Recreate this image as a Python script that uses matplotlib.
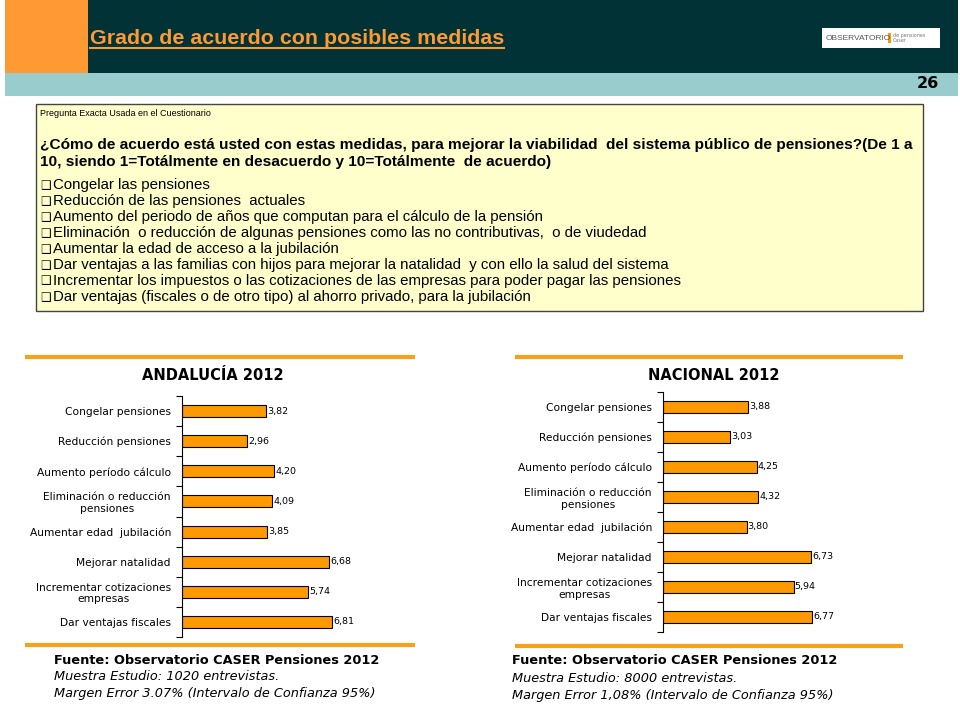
import matplotlib
matplotlib.use('Agg')
import matplotlib.pyplot as plt
from matplotlib.patches import Rectangle
from matplotlib.lines import Line2D

W, H = 960, 720

categories = ['Congelar pensiones', 'Reducción pensiones', 'Aumento período cálculo',
              'Eliminación o reducción\npensiones', 'Aumentar edad  jubilación',
              'Mejorar natalidad', 'Incrementar cotizaciones\nempresas', 'Dar ventajas fiscales']
andalucia = [3.82, 2.96, 4.20, 4.09, 3.85, 6.68, 5.74, 6.81]
nacional = [3.88, 3.03, 4.25, 4.32, 3.80, 6.73, 5.94, 6.77]

question = ['¿Cómo de acuerdo está usted con estas medidas, para mejorar la viabilidad  del sistema público de pensiones?(De 1 a',
            '10, siendo 1=Totálmente en desacuerdo y 10=Totálmente  de acuerdo)']
items = ['Congelar las pensiones',
         'Reducción de las pensiones  actuales',
         'Aumento del periodo de años que computan para el cálculo de la pensión',
         'Eliminación  o reducción de algunas pensiones como las no contributivas,  o de viudedad',
         'Aumentar la edad de acceso a la jubilación',
         'Dar ventajas a las familias con hijos para mejorar la natalidad  y con ello la salud del sistema',
         'Incrementar los impuestos o las cotizaciones de las empresas para poder pagar las pensiones',
         'Dar ventajas (fiscales o de otro tipo) al ahorro privado, para la jubilación']

ORANGE = '#FF9900'
LINE_ORANGE = '#F7A11A'
SANS = ['Liberation Sans', 'DejaVu Sans']

fig = plt.figure(figsize=(9.6, 7.2), dpi=100)
fig.patch.set_facecolor('white')


def fx(x):
    return x / W


def fy(y):
    return 1 - y / H


def box(x0, y0, x1, y1, **kw):
    fig.add_artist(Rectangle((fx(x0), fy(y1)), (x1 - x0) / W, (y1 - y0) / H,
                             transform=fig.transFigure, **kw))


def hline(x0, x1, y, **kw):
    fig.add_artist(Line2D([fx(x0), fx(x1)], [fy(y), fy(y)], transform=fig.transFigure, **kw))


def txt(x, y, s, **kw):
    return fig.text(fx(x), fy(y), s, **kw)


# header
box(5, 0, 958, 73, facecolor='#013236', edgecolor='none')
box(5, 0, 88, 73, facecolor='#FF9933', edgecolor='none')
box(5, 73, 958, 96, facecolor='#99CCCC', edgecolor='none')
title = txt(90, 38, 'Grado de acuerdo con posibles medidas', fontsize=15.4, fontweight='bold',
            color='#FF9933', va='center', family=SANS)
txt(939, 84, '26', fontsize=11.5, fontweight='bold', color='black', ha='right', va='center')

# logo
box(822, 28, 940, 48, facecolor='white', edgecolor='none')
txt(826, 38, 'OBSERVATORIO', fontsize=6, color='#555555', va='center', family=SANS)
box(888, 33, 891, 43, facecolor=ORANGE, edgecolor='none')
txt(893, 36, 'de pensiones', fontsize=3.5, color='#777777', va='center')
txt(893, 41, 'Caser', fontsize=3.5, color='#777777', va='center')

# question box
box(36, 104, 923, 311, facecolor='#FFFFCC', edgecolor='#444444', linewidth=1)
txt(40, 114, 'Pregunta Exacta Usada en el Cuestionario', fontsize=6.5, va='center', family=SANS)
for i, line in enumerate(question):
    txt(40, 145 + 17 * i, line, fontsize=11.1, fontweight='bold', va='center', family=SANS)
for i, item in enumerate(items):
    txt(40, 185 + 16 * i, '❑', fontsize=8.5, va='center', family=['DejaVu Sans'])
    txt(53, 185 + 16 * i, item, fontsize=10.8, va='center', family=SANS)


def panel(vals, left, top, bottom, ttl, ttl_x, line_x, line_top, line_bot, src_x, src_lines):
    hline(line_x[0], line_x[1], line_top, color=LINE_ORANGE, linewidth=3, solid_capstyle='butt')
    hline(line_x[0], line_x[1], line_bot, color=LINE_ORANGE, linewidth=3, solid_capstyle='butt')
    txt(ttl_x, line_top + 18, ttl, fontsize=10.5, fontweight='bold', ha='center', va='center')
    ax = fig.add_axes([fx(left), fy(bottom), 220 / W, (bottom - top) / H])
    y = list(range(len(categories)))
    ax.barh(y, vals, height=0.4, color=ORANGE, edgecolor='black', linewidth=0.8)
    for yi, v in zip(y, vals):
        ax.text(v + 0.05, yi, f'{v:.2f}'.replace('.', ','), fontsize=6.8, va='center')
    ax.set_xlim(0, 10)
    ax.set_ylim(len(categories) - 0.5, -0.5)
    ax.set_yticks(y)
    ax.set_yticklabels(categories, fontsize=7.7, multialignment='center')
    ax.set_yticks([i - 0.5 for i in range(len(categories) + 1)], minor=True)
    ax.tick_params(axis='y', which='major', length=0, pad=8)
    ax.tick_params(axis='y', which='minor', length=4, width=0.8, direction='out')
    ax.set_xticks([])
    for s in ['top', 'right', 'bottom']:
        ax.spines[s].set_visible(False)
    ax.spines['left'].set_linewidth(0.8)
    ax.patch.set_alpha(0)
    txt(src_x, line_bot + 15, src_lines[0], fontsize=9.3, fontweight='bold', va='center')
    txt(src_x, line_bot + 32, src_lines[1], fontsize=9.3, style='italic', va='center')
    txt(src_x, line_bot + 49, src_lines[2], fontsize=9.3, style='italic', va='center')


panel(andalucia, 182, 396, 637, 'ANDALUCÍA 2012', 213, (25, 415), 357, 645, 54,
      ['Fuente: Observatorio CASER Pensiones 2012',
       'Muestra Estudio: 1020 entrevistas.',
       'Margen Error 3.07% (Intervalo de Confianza 95%)'])
panel(nacional, 663, 392, 632, 'NACIONAL 2012', 714, (515, 903), 357, 646, 512,
      ['Fuente: Observatorio CASER Pensiones 2012',
       'Muestra Estudio: 8000 entrevistas.',
       'Margen Error 1,08% (Intervalo de Confianza 95%)'])

# underline for the title
fig.canvas.draw()
bb = title.get_window_extent().transformed(fig.transFigure.inverted())
fig.add_artist(Line2D([bb.x0, bb.x1], [bb.y0 - 0.001, bb.y0 - 0.001], transform=fig.transFigure,
                      color='#FF9933', linewidth=1.5))

fig.savefig('out.png', dpi=100)
